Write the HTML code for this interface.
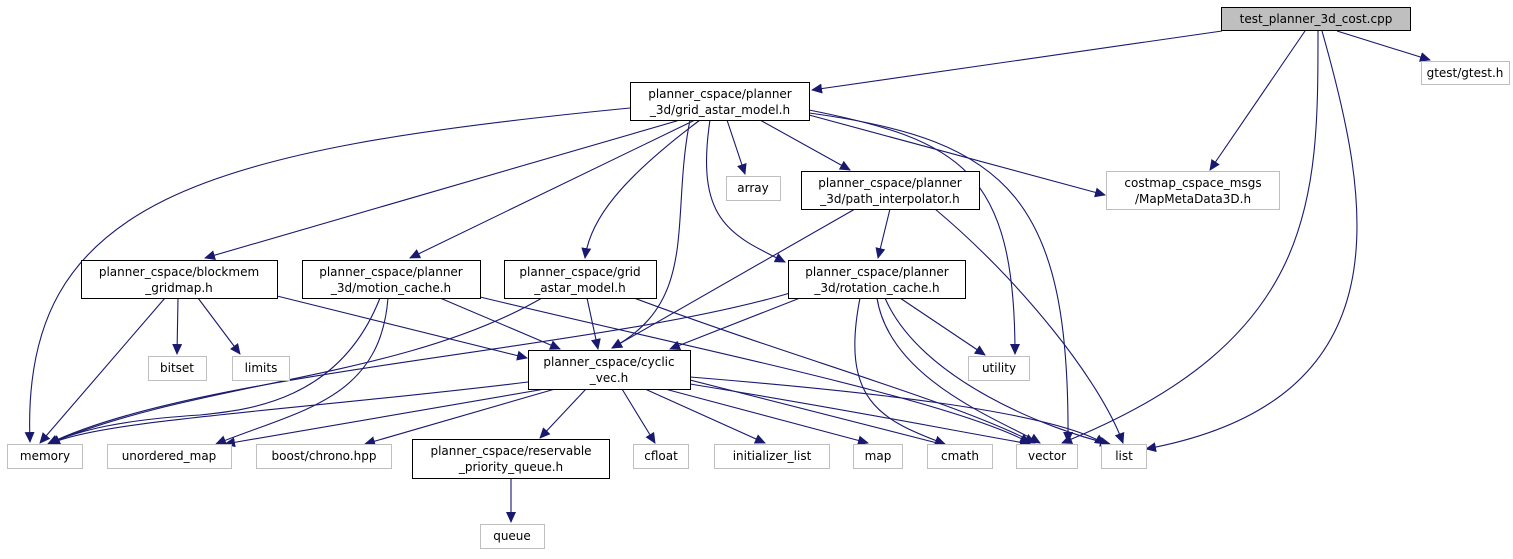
<!DOCTYPE html>
<html><head><meta charset="utf-8"><style>
html,body{margin:0;padding:0;background:#fff;width:1513px;height:559px;overflow:hidden}
text{font-family:"DejaVu Sans","Liberation Sans",sans-serif;font-size:12px;fill:#000}
</style></head><body>
<svg width="1513" height="559" viewBox="0 0 1513 559" xmlns="http://www.w3.org/2000/svg">
<defs><marker id="a" markerWidth="11" markerHeight="10" refX="10" refY="5" orient="auto" markerUnits="userSpaceOnUse"><path d="M0,0 L11,5 L0,10 z" fill="#191970"/></marker></defs>
<g fill="none" stroke="#191970" stroke-width="1.1" marker-end="url(#a)">
<path d="M1222,31 L812,90"/>
<path d="M1305,31 L1210,170"/>
<path d="M1337,31 L1430,60"/>
<path d="M1318,31 C1318,200 1318,340 1062,443"/>
<path d="M1322,31 C1370,200 1410,400 1146,449"/>
<path d="M630,108 C200,150 20,200 30,442"/>
<path d="M680,120 L205,258"/>
<path d="M695,120 L410,258"/>
<path d="M700,120 C620,180 590,220 585,258"/>
<path d="M690,120 C670,220 700,300 612,348"/>
<path d="M710,120 C695,220 730,235 785,262"/>
<path d="M727,120 L745,174"/>
<path d="M760,120 L850,170"/>
<path d="M809,110 C960,140 1015,170 1015,354"/>
<path d="M809,113 C1010,140 1070,200 1068,442"/>
<path d="M809,115 L1105,195"/>
<path d="M890,209 L878,258"/>
<path d="M855,209 L612,348"/>
<path d="M935,209 C1020,280 1100,380 1123,443"/>
<path d="M165,298 L40,443"/>
<path d="M178,298 L177,354"/>
<path d="M198,298 L240,354"/>
<path d="M277,296 L527,358"/>
<path d="M380,298 C340,400 250,410 200,415 C120,420 80,430 48,444"/>
<path d="M388,298 C380,400 300,410 216,444"/>
<path d="M440,298 L560,349"/>
<path d="M480,297 C700,350 950,400 1030,443"/>
<path d="M542,298 C400,380 200,380 48,444"/>
<path d="M587,298 L598,349"/>
<path d="M634,298 C800,360 950,400 1035,443"/>
<path d="M800,298 L670,349"/>
<path d="M790,293 C600,350 200,370 48,444"/>
<path d="M900,298 L985,355"/>
<path d="M860,298 C840,400 880,420 945,444"/>
<path d="M877,298 C890,380 1000,420 1040,443"/>
<path d="M885,298 C920,380 1050,430 1110,444"/>
<path d="M528,382 C300,410 100,420 50,444"/>
<path d="M545,389 L225,444"/>
<path d="M555,389 L365,444"/>
<path d="M586,389 L540,438"/>
<path d="M622,389 L655,443"/>
<path d="M645,389 L765,443"/>
<path d="M665,389 L868,443"/>
<path d="M690,380 L945,445"/>
<path d="M690,384 C850,410 950,430 1030,444"/>
<path d="M690,377 C850,390 1050,410 1105,444"/>
<path d="M511,478 L511,522"/>
</g>
<g stroke-width="1">
<rect x="1221.5" y="7.5" width="189" height="23" fill="#bfbfbf" stroke="#000"/>
<rect x="630.5" y="82.5" width="179" height="38" fill="#fff" stroke="#000"/>
<rect x="1421.5" y="61.5" width="88" height="23" fill="#fff" stroke="#bfbfbf"/>
<rect x="1106.5" y="171.5" width="173" height="38" fill="#fff" stroke="#bfbfbf"/>
<rect x="726.5" y="176.5" width="54" height="24" fill="#fff" stroke="#bfbfbf"/>
<rect x="801.5" y="171.5" width="178" height="38" fill="#fff" stroke="#000"/>
<rect x="81.5" y="260.5" width="196" height="38" fill="#fff" stroke="#000"/>
<rect x="302.5" y="260.5" width="178" height="38" fill="#fff" stroke="#000"/>
<rect x="504.5" y="260.5" width="152" height="38" fill="#fff" stroke="#000"/>
<rect x="788.5" y="260.5" width="177" height="38" fill="#fff" stroke="#000"/>
<rect x="148.5" y="356.5" width="58" height="24" fill="#fff" stroke="#bfbfbf"/>
<rect x="232.5" y="356.5" width="57" height="24" fill="#fff" stroke="#bfbfbf"/>
<rect x="968.5" y="356.5" width="61" height="24" fill="#fff" stroke="#bfbfbf"/>
<rect x="528.5" y="350.5" width="162" height="39" fill="#fff" stroke="#000"/>
<rect x="7.5" y="444.5" width="75" height="24" fill="#fff" stroke="#bfbfbf"/>
<rect x="107.5" y="444.5" width="124" height="24" fill="#fff" stroke="#bfbfbf"/>
<rect x="256.5" y="444.5" width="135" height="24" fill="#fff" stroke="#bfbfbf"/>
<rect x="412.5" y="439.5" width="197" height="39" fill="#fff" stroke="#000"/>
<rect x="633.5" y="444.5" width="55" height="24" fill="#fff" stroke="#bfbfbf"/>
<rect x="714.5" y="444.5" width="115" height="24" fill="#fff" stroke="#bfbfbf"/>
<rect x="853.5" y="444.5" width="49" height="24" fill="#fff" stroke="#bfbfbf"/>
<rect x="927.5" y="444.5" width="65" height="24" fill="#fff" stroke="#bfbfbf"/>
<rect x="1016.5" y="444.5" width="61" height="24" fill="#fff" stroke="#bfbfbf"/>
<rect x="1101.5" y="444.5" width="45" height="24" fill="#fff" stroke="#bfbfbf"/>
<rect x="480.5" y="524.5" width="64" height="24" fill="#fff" stroke="#bfbfbf"/>
</g>
<g text-anchor="middle">
<text x="1316" y="23">test_planner_3d_cost.cpp</text>
<text x="720" y="98">planner_cspace/planner</text><text x="720" y="114">_3d/grid_astar_model.h</text>
<text x="1465" y="77">gtest/gtest.h</text>
<text x="1193" y="187">costmap_cspace_msgs</text><text x="1193" y="203">/MapMetaData3D.h</text>
<text x="753" y="192">array</text>
<text x="890" y="187">planner_cspace/planner</text><text x="890" y="203">_3d/path_interpolator.h</text>
<text x="179" y="276">planner_cspace/blockmem</text><text x="179" y="292">_gridmap.h</text>
<text x="391" y="276">planner_cspace/planner</text><text x="391" y="292">_3d/motion_cache.h</text>
<text x="580" y="276">planner_cspace/grid</text><text x="580" y="292">_astar_model.h</text>
<text x="877" y="276">planner_cspace/planner</text><text x="877" y="292">_3d/rotation_cache.h</text>
<text x="177" y="372">bitset</text>
<text x="261" y="372">limits</text>
<text x="999" y="372">utility</text>
<text x="609" y="366">planner_cspace/cyclic</text><text x="609" y="382">_vec.h</text>
<text x="45" y="460">memory</text>
<text x="169" y="460">unordered_map</text>
<text x="324" y="460">boost/chrono.hpp</text>
<text x="511" y="455">planner_cspace/reservable</text><text x="511" y="471">_priority_queue.h</text>
<text x="661" y="460">cfloat</text>
<text x="772" y="460">initializer_list</text>
<text x="878" y="460">map</text>
<text x="960" y="460">cmath</text>
<text x="1047" y="460">vector</text>
<text x="1124" y="460">list</text>
<text x="512" y="540">queue</text>
</g>
</svg>
</body></html>
